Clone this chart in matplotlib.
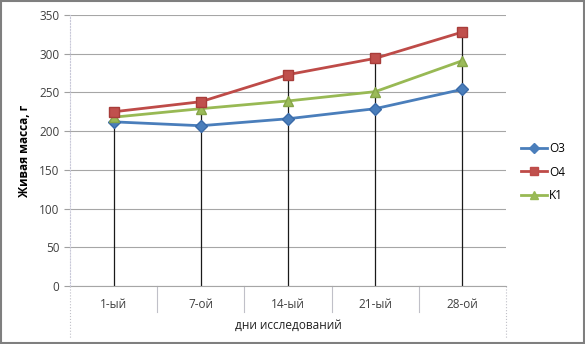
import matplotlib
matplotlib.use("Agg")
import matplotlib.pyplot as plt
from matplotlib.patches import Rectangle
from matplotlib.lines import Line2D

plt.rcParams['font.family'] = ['Open Sans', 'DejaVu Sans']

categories = ["1-ый", "7-ой", "14-ый", "21-ый", "28-ой"]
o3 = [212, 207, 216, 229, 254]
o4 = [225, 238, 273, 294, 328]
k1 = [218, 229, 239, 251, 291]
yticks = [0, 50, 100, 150, 200, 250, 300, 350]

W, H = 585, 344
fig = plt.figure(figsize=(W / 100, H / 100), dpi=100)
fig.patch.set_facecolor("white")
fig.add_artist(Rectangle((0.002, 0.003), 0.996, 0.994, transform=fig.transFigure,
                         fill=False, edgecolor="#7f7f7f", lw=1.5))

L, R, T, B = 70, 506, 15, 286
ax = fig.add_axes([L / W, 1 - B / H, (R - L) / W, (B - T) / H])
x = list(range(len(categories)))
ax.set_xlim(-0.5, len(categories) - 0.5)
ax.set_ylim(0, 350)
ax.set_yticks(yticks)
ax.tick_params(axis='y', length=4, labelsize=8.5, colors="#404040", width=0.8, color="#a0a0a0")
ax.tick_params(axis='x', length=0, labelsize=8.5, colors="#404040", pad=9)
ax.set_xticks(x)
ax.set_xticklabels(categories)
for v in yticks:
    ax.axhline(v, color="#a6a6a6", lw=0.8, zorder=0)
for s in ["top", "right", "bottom"]:
    ax.spines[s].set_visible(False)
ax.spines["left"].set_color("#c8c8d8")
ax.spines["left"].set_linestyle(":")

tops = [max(a, b, c) for a, b, c in zip(o3, o4, k1)]
ax.vlines(x, 0, tops, colors="#1a1a1a", lw=0.9, zorder=1)

ax.plot(x, o3, color="#4a7ebb", lw=2, marker="D", ms=6, mfc="#4a7ebb", mec="#3a6aa8", zorder=3, label="O3")
ax.plot(x, o4, color="#be4b48", lw=2, marker="s", ms=7, mfc="#c0504d", mec="#a83d3a", zorder=4, label="O4")
ax.plot(x, k1, color="#98b954", lw=2, marker="^", ms=7, mfc="#9bbb59", mec="#86a548", zorder=3, label="K1")

ax.set_ylabel("Живая масса, г", fontsize=8.5, fontweight="bold", labelpad=6)

# category table below axis
h = B - T
r1 = -26 / h
r2 = -52 / h
tr = ax.get_xaxis_transform()
for i in range(len(categories) + 1):
    xb = i - 0.5
    bottom = r2 if i in (0, len(categories)) else r1
    ax.plot([xb, xb], [0, bottom], transform=tr, color="#c0c0c8", lw=0.8,
            ls=":" if i in (0, len(categories)) else "-", clip_on=False)
ax.plot([-0.5, len(categories) - 0.5], [0, 0], transform=tr, color="#a6a6a6", lw=0.8, clip_on=False)
ax.text(2, (r1 + r2) / 2, "дни исследований", transform=tr, ha="center", va="center",
        fontsize=8.5, color="#202020")

handles = [
    Line2D([], [], color="#4a7ebb", lw=2, marker="D", ms=5, mfc="#4a7ebb"),
    Line2D([], [], color="#be4b48", lw=2, marker="s", ms=6, mfc="#c0504d"),
    Line2D([], [], color="#98b954", lw=2, marker="^", ms=6, mfc="#9bbb59"),
]
fig.legend(handles, ["O3", "O4", "K1"], loc="center left", bbox_to_anchor=(510 / W, 1 - 172 / H),
           frameon=False, fontsize=8.5, handlelength=2.2, handletextpad=0.2, labelspacing=0.9)

fig.savefig("out.png", dpi=100)
